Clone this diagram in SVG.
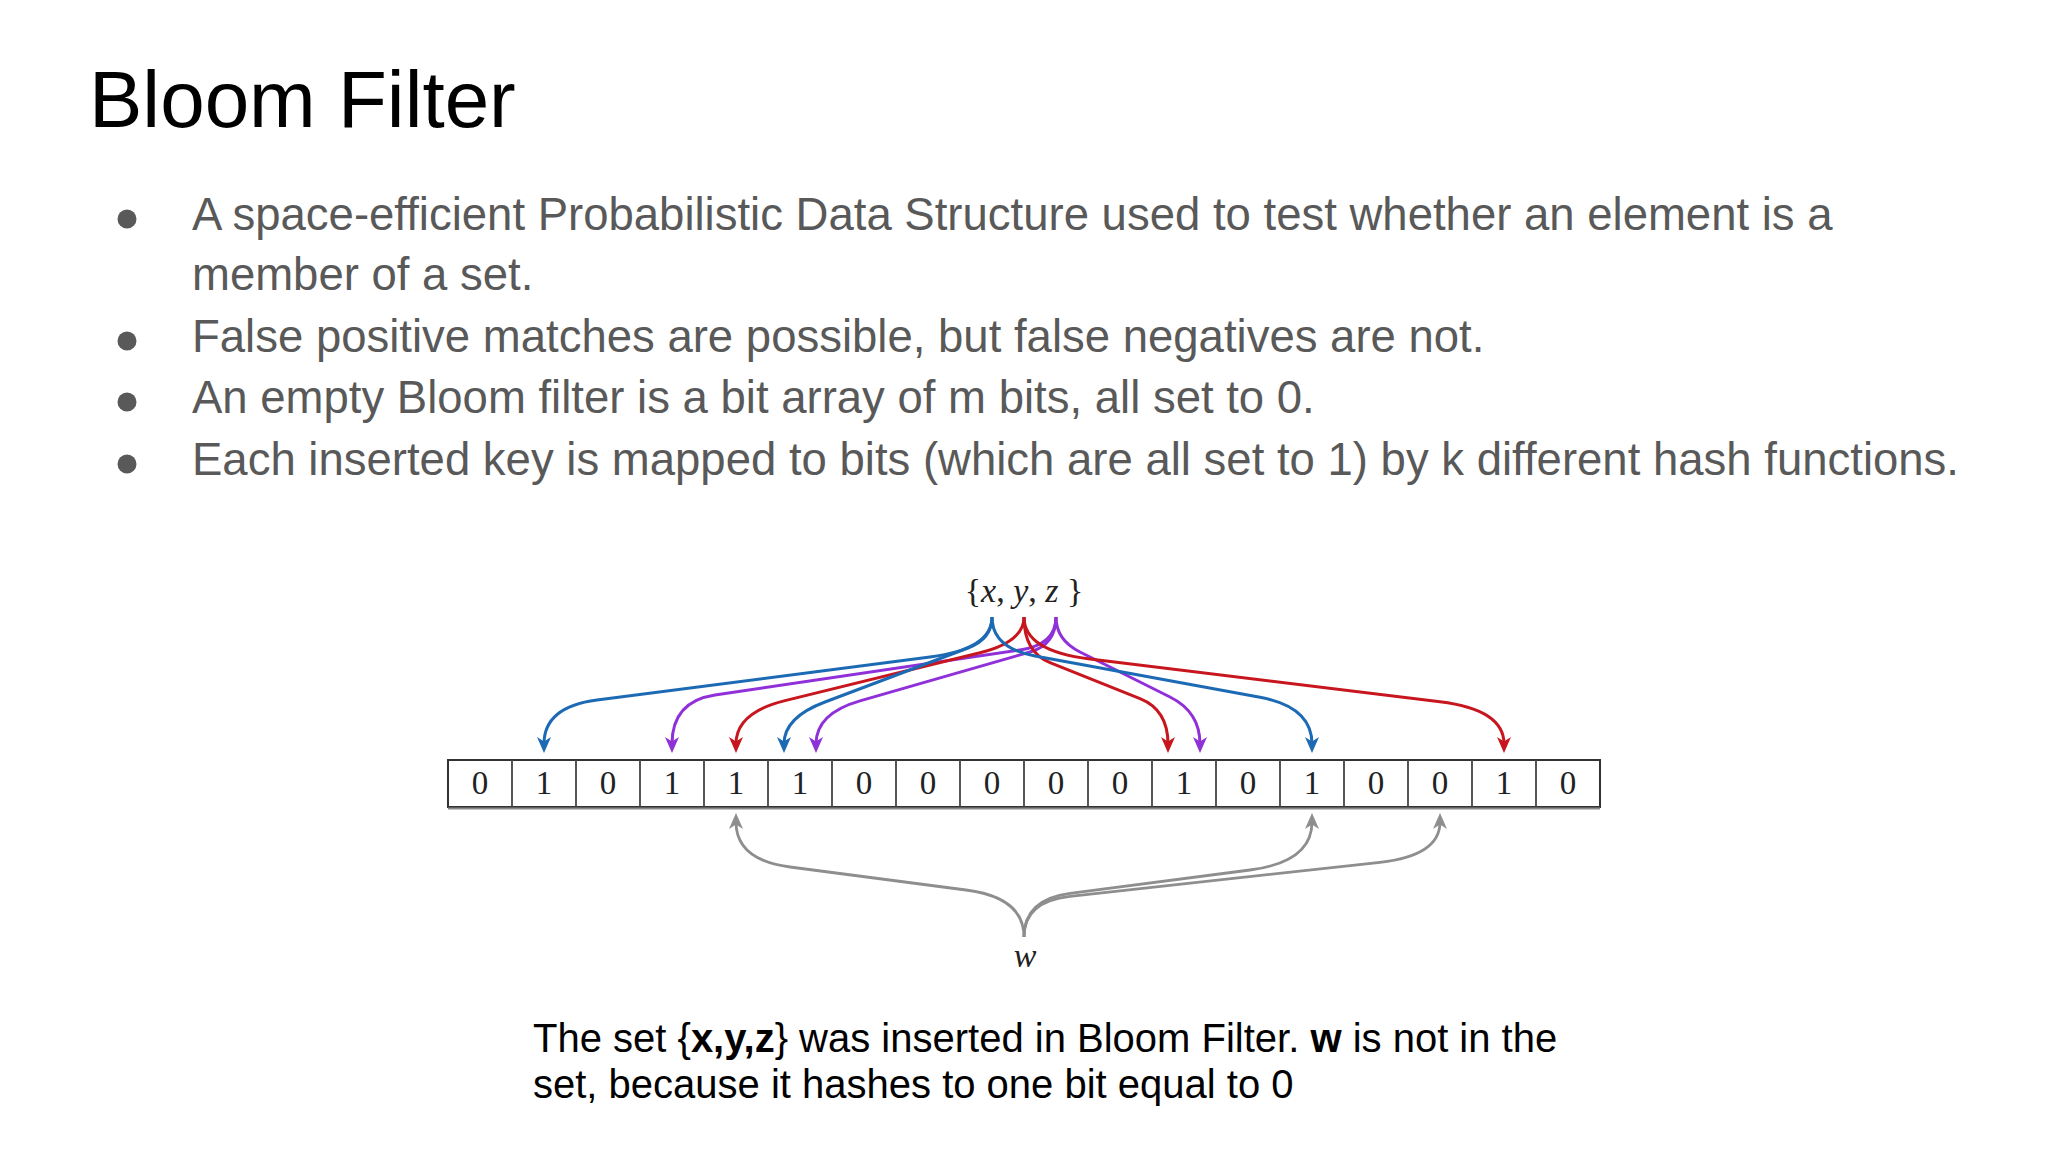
<svg xmlns="http://www.w3.org/2000/svg" width="2048" height="1152" viewBox="0 0 2048 1152">
<style>
.title{font-family:"Liberation Sans",Arial,sans-serif;font-size:80px;fill:#000}
.body{font-family:"Liberation Sans",Arial,sans-serif;font-size:45.5px;fill:#595959}
.cap{font-family:"Liberation Sans",Arial,sans-serif;font-size:40px;fill:#000}
.bit{font-family:"Liberation Serif","Times New Roman",serif;font-size:33px;fill:#222;text-anchor:middle}
.math{font-family:"Liberation Serif","Times New Roman",serif;font-size:34px;fill:#222}
.it{font-style:italic}
.cb{fill:none;stroke:#1d6ab4;stroke-width:3}
.cr{fill:none;stroke:#c8161e;stroke-width:3}
.cp{fill:none;stroke:#9030d8;stroke-width:3}
.cg{fill:none;stroke:#8e8e8e;stroke-width:2.8}
.cell{fill:#fff;stroke:#333;stroke-width:2}
</style>
<defs>
<marker id="mb" markerUnits="userSpaceOnUse" markerWidth="22" markerHeight="22" refX="10" refY="11" orient="auto" overflow="visible"><path d="M19,11 L3,4 L7.5,11 L3,18 z" fill="#1d6ab4"/></marker>
<marker id="mr" markerUnits="userSpaceOnUse" markerWidth="22" markerHeight="22" refX="10" refY="11" orient="auto" overflow="visible"><path d="M19,11 L3,4 L7.5,11 L3,18 z" fill="#c8161e"/></marker>
<marker id="mp" markerUnits="userSpaceOnUse" markerWidth="22" markerHeight="22" refX="10" refY="11" orient="auto" overflow="visible"><path d="M19,11 L3,4 L7.5,11 L3,18 z" fill="#9030d8"/></marker>
<marker id="mg" markerUnits="userSpaceOnUse" markerWidth="22" markerHeight="22" refX="10" refY="11" orient="auto" overflow="visible"><path d="M19,11 L3,4 L7.5,11 L3,18 z" fill="#8e8e8e"/></marker>
</defs>
<rect width="2048" height="1152" fill="#fff"/>

<g id="title"><text class="title" x="89" y="127">Bloom Filter</text></g>

<g id="bullets">
<circle cx="127" cy="219" r="9.5" fill="#595959"/>
<text class="body" x="192" y="230">A space-efficient Probabilistic Data Structure used to test whether an element is a</text>
<text class="body" x="192" y="290">member of a set.</text>
<circle cx="127" cy="341" r="9.5" fill="#595959"/>
<text class="body" x="192" y="352">False positive matches are possible, but false negatives are not.</text>
<circle cx="127" cy="402" r="9.5" fill="#595959"/>
<text class="body" x="192" y="413">An empty Bloom filter is a bit array of m bits, all set to 0.</text>
<circle cx="127" cy="464" r="9.5" fill="#595959"/>
<text class="body" x="192" y="475">Each inserted key is mapped to bits (which are all set to 1) by k different hash functions.</text>
</g>

<g id="set-xyz"><text class="math" x="1024" y="602" text-anchor="middle">{<tspan class="it">x</tspan>, <tspan class="it">y</tspan>, <tspan class="it">z</tspan> }</text></g>

<g id="element-w"><text class="math it" x="1025" y="967" text-anchor="middle">w</text></g>

<g id="bit-array">
<rect class="cell" x="448" y="760" width="1152" height="47"/>
<line x1="448" y1="808.5" x2="1600" y2="808.5" stroke="#888" stroke-width="2"/>
<g stroke="#444" stroke-width="1.8">
<line x1="512" y1="760" x2="512" y2="807"/><line x1="576" y1="760" x2="576" y2="807"/><line x1="640" y1="760" x2="640" y2="807"/><line x1="704" y1="760" x2="704" y2="807"/><line x1="768" y1="760" x2="768" y2="807"/><line x1="832" y1="760" x2="832" y2="807"/><line x1="896" y1="760" x2="896" y2="807"/><line x1="960" y1="760" x2="960" y2="807"/><line x1="1024" y1="760" x2="1024" y2="807"/><line x1="1088" y1="760" x2="1088" y2="807"/><line x1="1152" y1="760" x2="1152" y2="807"/><line x1="1216" y1="760" x2="1216" y2="807"/><line x1="1280" y1="760" x2="1280" y2="807"/><line x1="1344" y1="760" x2="1344" y2="807"/><line x1="1408" y1="760" x2="1408" y2="807"/><line x1="1472" y1="760" x2="1472" y2="807"/><line x1="1536" y1="760" x2="1536" y2="807"/>
</g>
<text class="bit" x="480" y="794">0</text><text class="bit" x="544" y="794">1</text><text class="bit" x="608" y="794">0</text><text class="bit" x="672" y="794">1</text><text class="bit" x="736" y="794">1</text><text class="bit" x="800" y="794">1</text><text class="bit" x="864" y="794">0</text><text class="bit" x="928" y="794">0</text><text class="bit" x="992" y="794">0</text><text class="bit" x="1056" y="794">0</text><text class="bit" x="1120" y="794">0</text><text class="bit" x="1184" y="794">1</text><text class="bit" x="1248" y="794">0</text><text class="bit" x="1312" y="794">1</text><text class="bit" x="1376" y="794">0</text><text class="bit" x="1440" y="794">0</text><text class="bit" x="1504" y="794">1</text><text class="bit" x="1568" y="794">0</text>
</g>

<g id="connectors">
<path class="cb" marker-end="url(#mb)" d="M992,617 Q992,649 930,657 L597,700 Q544,706.8 544,744"/>
<path class="cp" marker-end="url(#mp)" d="M1056,617 Q1056,644.6 1020,650 L715,695 Q672,701.5 672,744"/>
<path class="cr" marker-end="url(#mr)" d="M1024,617 Q1024,642 980,652.8 L785,700.6 Q736,712.6 736,744"/>
<path class="cb" marker-end="url(#mb)" d="M992,617 Q992,639 968,648 L825,702 Q784,717.3 784,744"/>
<path class="cp" marker-end="url(#mp)" d="M1056,617 Q1056,644.5 1030,652 L860,700.9 Q816,713.5 816,744"/>
<path class="cr" marker-end="url(#mr)" d="M1024,617 Q1024,652.2 1050,662.6 L1140,698.6 Q1168,709.8 1168,744"/>
<path class="cp" marker-end="url(#mp)" d="M1056,617 Q1056,640 1080,652 L1170,697 Q1200,712 1200,744"/>
<path class="cb" marker-end="url(#mb)" d="M992,617 Q992,648 1035,656 L1260,697.3 Q1312,706.9 1312,744"/>
<path class="cr" marker-end="url(#mr)" d="M1024,617 Q1024,651 1090,659 L1440,701.8 Q1504,709.6 1504,744"/>
<path class="cg" marker-end="url(#mg)" d="M1024,937 Q1024,897.4 966,890 L790,867 Q736,860 736,822"/>
<path class="cg" marker-end="url(#mg)" d="M1024,937 Q1024,899.4 1070,893.4 L1250,870 Q1312,862 1312,822"/>
<path class="cg" marker-end="url(#mg)" d="M1024,937 Q1024,901.5 1070,896.4 L1380,862.3 Q1440,855.7 1440,822"/>
</g>

<g id="caption">
<text class="cap" x="533" y="1052">The set {<tspan font-weight="bold">x,y,z</tspan>} was inserted in Bloom Filter. <tspan font-weight="bold">w</tspan> is not in the</text>
<text class="cap" x="533" y="1098">set, because it hashes to one bit equal to 0</text>
</g>
</svg>
